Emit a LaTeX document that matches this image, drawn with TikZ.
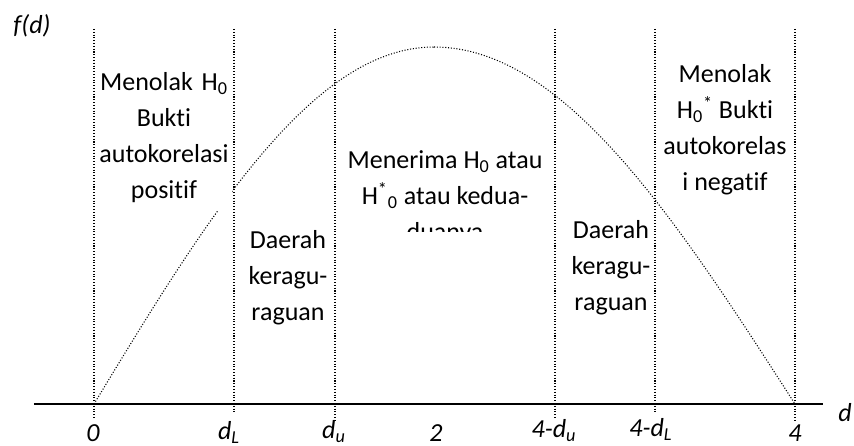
\documentclass[tikz,border=0pt]{standalone}
\usepackage{fontspec}
\setmainfont{Carlito}[Ligatures=NoCommon]

\begin{document}
\begin{tikzpicture}[
    garis/.style={densely dotted, line width=0.6pt},
    teks/.style={font=\fontsize{14.8}{20.5}\selectfont, align=center, inner sep=0pt, anchor=north},
    lbl/.style={font=\fontsize{14.8}{18}\selectfont\itshape, inner sep=0pt, anchor=base}]

  \useasboundingbox (0,0) rectangle (17.08,8.92);

  % Kurva f(d)
  \draw[garis] plot[domain=1.88:8.68, samples=60] (\x, {0.84+7.14*cos(90*(8.68-\x)/6.80)})
    plot[domain=8.68:15.90, samples=60] (\x, {0.84+7.14*cos(90*(\x-8.68)/7.22)});

  % Daerah keputusan
  \node[teks, fill=white, text width=2.72cm, inner ysep=0.16cm] (tolakpos) at (3.28,7.64)
    {Menolak H\textsubscript{0}\\ Bukti\\ autokorelasi\\ positif};
  \node[teks] (ragukiri) at (5.76,4.32) {Daerah\\ keragu-\\ raguan};
  \begin{scope}
    \clip (6.72,4.28) rectangle (11.08,8.34);
    \node[teks] (terima) at (8.90,5.92)
      {Menerima H\textsubscript{0} atau\\ H\textsuperscript{*}\textsubscript{0} atau kedua-\\ duanya};
  \end{scope}
  \node[teks] (ragukanan) at (12.22,4.52) {Daerah\\ keragu-\\ raguan};
  \node[teks] (tolakneg) at (14.50,7.64)
    {Menolak\\ H\textsubscript{0}\textsuperscript{*} Bukti\\ autokorelas\\ i negatif};

  % Garis batas
  \foreach \x/\yb in {1.88/0.56, 4.68/0.68, 6.70/0.52, 11.10/0.54, 13.10/0.68, 15.90/0.52}
    \draw[garis] (\x,8.34) -- (\x,\yb);

  % Sumbu d
  \draw[line width=1.3pt] (0.68,0.84) -- (16.46,0.84);

  % Label sumbu
  \node[lbl] (fd) at (0.64,8.24) {f(d)};
  \node[lbl] (nol) at (1.86,0.08) {0};
  \node[lbl] (dL) at (4.58,0.12) {d\textsubscript{L}};
  \node[lbl] (du) at (6.68,0.14) {d\textsubscript{u}};
  \node[lbl] (dua) at (8.72,0.08) {2};
  \node[lbl] (empatdu) at (11.08,0.16) {4-d\textsubscript{u}};
  \node[lbl] (empatdL) at (13.02,0.18) {4-d\textsubscript{L}};
  \node[lbl] (empat) at (15.90,0.08) {4};
  \node[lbl] (d) at (16.90,0.48) {d};

\end{tikzpicture}
\end{document}
